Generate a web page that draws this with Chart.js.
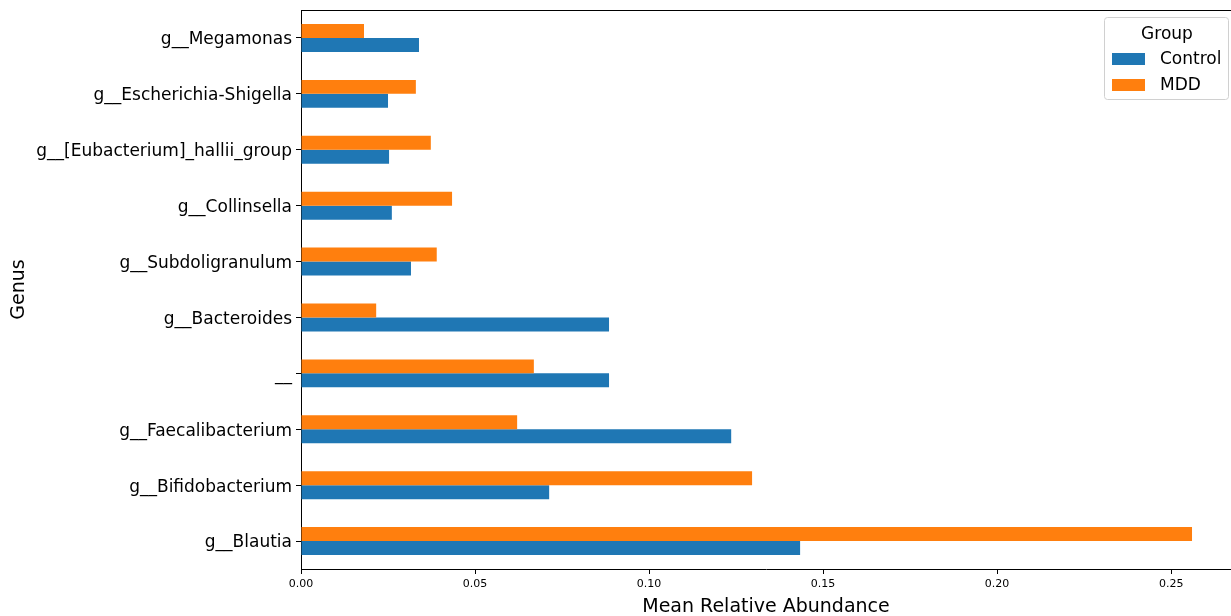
<!DOCTYPE html>
<html>
<head>
<meta charset="utf-8">
<script src="https://cdn.jsdelivr.net/npm/chart.js@4/dist/chart.umd.min.js"></script>
<style>
  html, body { margin: 0; padding: 0; background: #fff; }
  #wrap { width: 1231px; height: 616px; }
</style>
</head>
<body>
<div id="wrap"><canvas id="genusChart"></canvas></div>
<script>
// genera listed top to bottom
const genera = [
  "g__Megamonas",
  "g__Escherichia-Shigella",
  "g__[Eubacterium]_hallii_group",
  "g__Collinsella",
  "g__Subdoligranulum",
  "g__Bacteroides",
  "__",
  "g__Faecalibacterium",
  "g__Bifidobacterium",
  "g__Blautia"
];
const mddValues = [0.0181, 0.0330, 0.0373, 0.0434, 0.0390, 0.0216, 0.0669, 0.0621, 0.1296, 0.2560];
const controlValues = [0.0339, 0.0250, 0.0253, 0.0261, 0.0316, 0.0885, 0.0885, 0.1236, 0.0713, 0.1434];
const xTicks = [0, 0.05, 0.10, 0.15, 0.20, 0.25];

const BLUE = "#1f77b4";
const ORANGE = "#ff7f0e";
const FONT = "'DejaVu Sans', sans-serif";

// top spine + boxed legend drawn inside the plot, matplotlib-style
const frameAndLegend = {
  id: "frameAndLegend",
  afterDraw(chart) {
    const { ctx, chartArea } = chart;
    ctx.save();
    ctx.strokeStyle = "#000";
    ctx.lineWidth = 1;
    ctx.beginPath();
    ctx.moveTo(chartArea.left, chartArea.top + 0.5);
    ctx.lineTo(chartArea.right, chartArea.top + 0.5);
    ctx.stroke();

    const w = 124, h = 82;
    const x = chartArea.right - 3 - w, y = chartArea.top + 7;
    ctx.fillStyle = "rgba(255,255,255,0.8)";
    ctx.strokeStyle = "#d0d0d0";
    ctx.beginPath();
    ctx.roundRect(x + 0.5, y + 0.5, w, h, 3);
    ctx.fill();
    ctx.stroke();

    ctx.fillStyle = "#000";
    ctx.font = "17px " + FONT;
    ctx.textAlign = "center";
    ctx.textBaseline = "middle";
    ctx.fillText("Group", x + w / 2 + 1, y + 18);

    const entries = [
      { label: "Control", color: BLUE },
      { label: "MDD", color: ORANGE }
    ];
    ctx.textAlign = "left";
    entries.forEach((e, i) => {
      const cy = y + 42 + i * 26;
      ctx.fillStyle = e.color;
      ctx.fillRect(x + 8, cy - 6, 33, 12);
      ctx.fillStyle = "#000";
      ctx.fillText(e.label, x + 56, cy + 1);
    });
    ctx.restore();
  }
};

new Chart(document.getElementById("genusChart"), {
  type: "bar",
  data: {
    labels: genera,
    datasets: [
      { label: "MDD", data: mddValues, backgroundColor: ORANGE },
      { label: "Control", data: controlValues, backgroundColor: BLUE }
    ]
  },
  options: {
    indexAxis: "y",
    responsive: true,
    maintainAspectRatio: false,
    animation: false,
    events: [],
    layout: { padding: { top: 10, right: 0, left: 0, bottom: 0 } },
    datasets: { bar: { categoryPercentage: 0.5, barPercentage: 1.0, borderWidth: 0 } },
    plugins: { legend: { display: false }, tooltip: { enabled: false } },
    scales: {
      x: {
        type: "linear",
        min: 0,
        max: 0.2672,
        afterBuildTicks: scale => { scale.ticks = xTicks.map(v => ({ value: v })); },
        afterFit: scale => { scale.height = 47; },
        grid: { drawOnChartArea: false, tickLength: 5, tickColor: "#000" },
        border: { color: "#000", width: 1 },
        ticks: {
          color: "#000",
          font: { family: FONT, size: 11 },
          padding: 4,
          maxRotation: 0,
          callback: v => v.toFixed(2)
        },
        title: {
          display: true,
          text: "Mean Relative Abundance",
          color: "#000",
          font: { family: FONT, size: 19 },
          padding: { top: 0, bottom: -2 }
        }
      },
      y: {
        afterFit: scale => {
          scale.width = 301;
          scale.paddingTop = 0;
          scale.paddingBottom = 0;
        },
        grid: { drawOnChartArea: false, tickLength: 5, tickColor: "#000", offset: false },
        border: { color: "#000", width: 1 },
        ticks: {
          color: "#000",
          font: { family: FONT, size: 17 },
          padding: 4,
          labelOffset: 2
        },
        title: {
          display: true,
          text: "Genus",
          color: "#000",
          font: { family: FONT, size: 19 },
          padding: { top: 8, bottom: 0 }
        }
      }
    }
  },
  plugins: [frameAndLegend]
});
</script>
</body>
</html>
